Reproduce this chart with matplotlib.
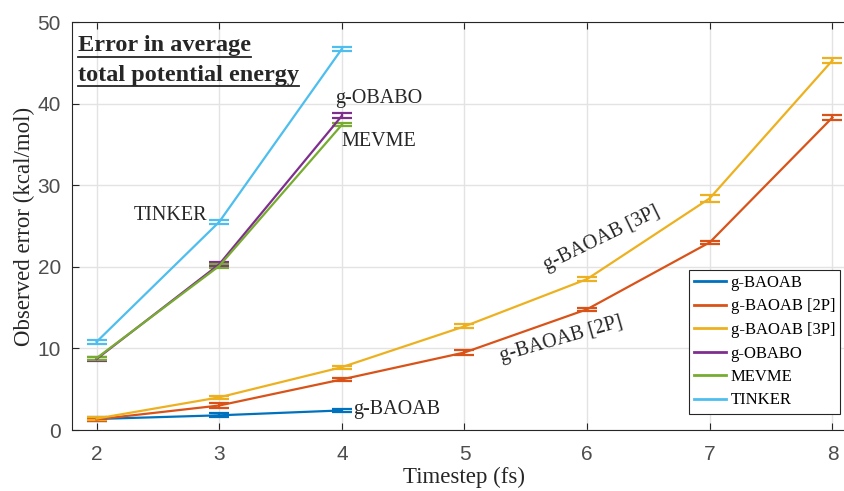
import matplotlib
matplotlib.use('Agg')
import matplotlib.pyplot as plt
from matplotlib.lines import Line2D

# data
timestep_short = [2, 3, 4]
timestep_long = [2, 3, 4, 5, 6, 7, 8]

g_baoab = [1.35, 1.8, 2.4]
g_baoab_err = [0.25, 0.25, 0.2]
g_baoab_2p = [1.3, 3.0, 6.2, 9.5, 14.8, 23.0, 38.3]
g_baoab_2p_err = [0.2, 0.35, 0.2, 0.25, 0.2, 0.2, 0.25]
g_baoab_3p = [1.4, 4.0, 7.7, 12.7, 18.5, 28.4, 45.3]
g_baoab_3p_err = [0.2, 0.2, 0.2, 0.25, 0.25, 0.4, 0.3]
g_obabo = [8.7, 20.3, 38.5]
g_obabo_err = [0.3, 0.25, 0.3]
mevme = [8.8, 20.1, 37.4]
mevme_err = [0.2, 0.2, 0.2]
tinker = [10.8, 25.5, 46.7]
tinker_err = [0.25, 0.25, 0.2]

colors = ['#0072BD', '#D95319', '#EDB120', '#7E2F8E', '#77AC30', '#4DBEEE']
labels = ['g-BAOAB', 'g-BAOAB [2P]', 'g-BAOAB [3P]', 'g-OBABO', 'MEVME', 'TINKER']

serif = 'Liberation Serif'
sans = 'Liberation Sans'

fig = plt.figure(figsize=(8.45, 4.91), dpi=100)
ax = fig.add_axes([72 / 845, 1 - 430 / 491, (857 - 72) / 845, (430 - 22) / 491])

series = [
    (timestep_short, g_baoab, g_baoab_err),
    (timestep_long, g_baoab_2p, g_baoab_2p_err),
    (timestep_long, g_baoab_3p, g_baoab_3p_err),
    (timestep_short, g_obabo, g_obabo_err),
    (timestep_short, mevme, mevme_err),
    (timestep_short, tinker, tinker_err),
]
handles = []
for (xs, ys, es), c, lab in zip(series, colors, labels):
    ax.errorbar(xs, ys, yerr=es, color=c, lw=1.6, capsize=7, capthick=1.6,
                elinewidth=1.6)
    handles.append(Line2D([], [], color=c, lw=2))

ax.set_xlim(1.8, 8.2)
ax.set_ylim(0, 50)
ax.set_xticks(range(2, 9))
ax.set_yticks(range(0, 51, 10))
ax.grid(True, color='#e3e3e3', lw=1)
ax.set_axisbelow(True)
ax.tick_params(direction='in', top=True, right=True, length=5, width=0.8,
               colors='#262626', labelcolor='#4d4d4d', labelsize=15)
ax.tick_params(axis='x', pad=11)
ax.tick_params(axis='y', pad=8)
for lab in ax.get_xticklabels() + ax.get_yticklabels():
    lab.set_fontfamily(sans)
for sp in ax.spines.values():
    sp.set_color('#262626')
    sp.set_linewidth(0.8)

ax.set_xlabel('Timestep (fs)', fontfamily=serif, fontsize=16.5, color='#262626', labelpad=2)
ax.set_ylabel('Observed error (kcal/mol)', fontfamily=serif, fontsize=16.5, color='#262626', labelpad=2)

leg = ax.legend(handles, labels, loc='upper left', bbox_to_anchor=(689 / 845, 1 - 270 / 491),
                bbox_transform=fig.transFigure, prop={'family': serif, 'size': 12},
                fancybox=False, edgecolor='#262626', framealpha=1,
                handlelength=1.9, labelspacing=0.45, borderpad=0.3,
                handletextpad=0.3, borderaxespad=0)
leg.get_frame().set_linewidth(0.8)

# in-plot labels
tkw = dict(fontfamily=serif, fontsize=14.5, color='#262626')
ax.text(4.3, 40.6, 'g-OBABO', ha='center', va='center', **tkw)
ax.text(4.3, 35.4, 'MEVME', ha='center', va='center', **tkw)
ax.text(2.6, 26.3, 'TINKER', ha='center', va='center', **tkw)
ax.text(4.45, 2.5, 'g-BAOAB', ha='center', va='center', **tkw)
ax.text(6.12, 23.4, 'g-BAOAB [3P]', ha='center', va='center', rotation=26, **tkw)
ax.text(5.79, 11.1, 'g-BAOAB [2P]', ha='center', va='center', rotation=16, **tkw)

# underlined bold title
title_lines = ['Error in average', 'total potential energy']
fig.canvas.draw()
renderer = fig.canvas.get_renderer()
y0 = 1 - 46 / 491
for i, line in enumerate(title_lines):
    ty = y0 - i * 29 / 491
    t = fig.text(78 / 845, ty, line, fontfamily=serif, fontsize=17.5, fontweight='bold',
                 color='#262626', ha='left', va='center')
    bb = t.get_window_extent(renderer).transformed(fig.transFigure.inverted())
    uy = ty - 11 / 491
    fig.add_artist(Line2D([bb.x0, bb.x1], [uy, uy], transform=fig.transFigure,
                          color='#262626', lw=1.3))

plt.savefig('out.png', dpi=100)
